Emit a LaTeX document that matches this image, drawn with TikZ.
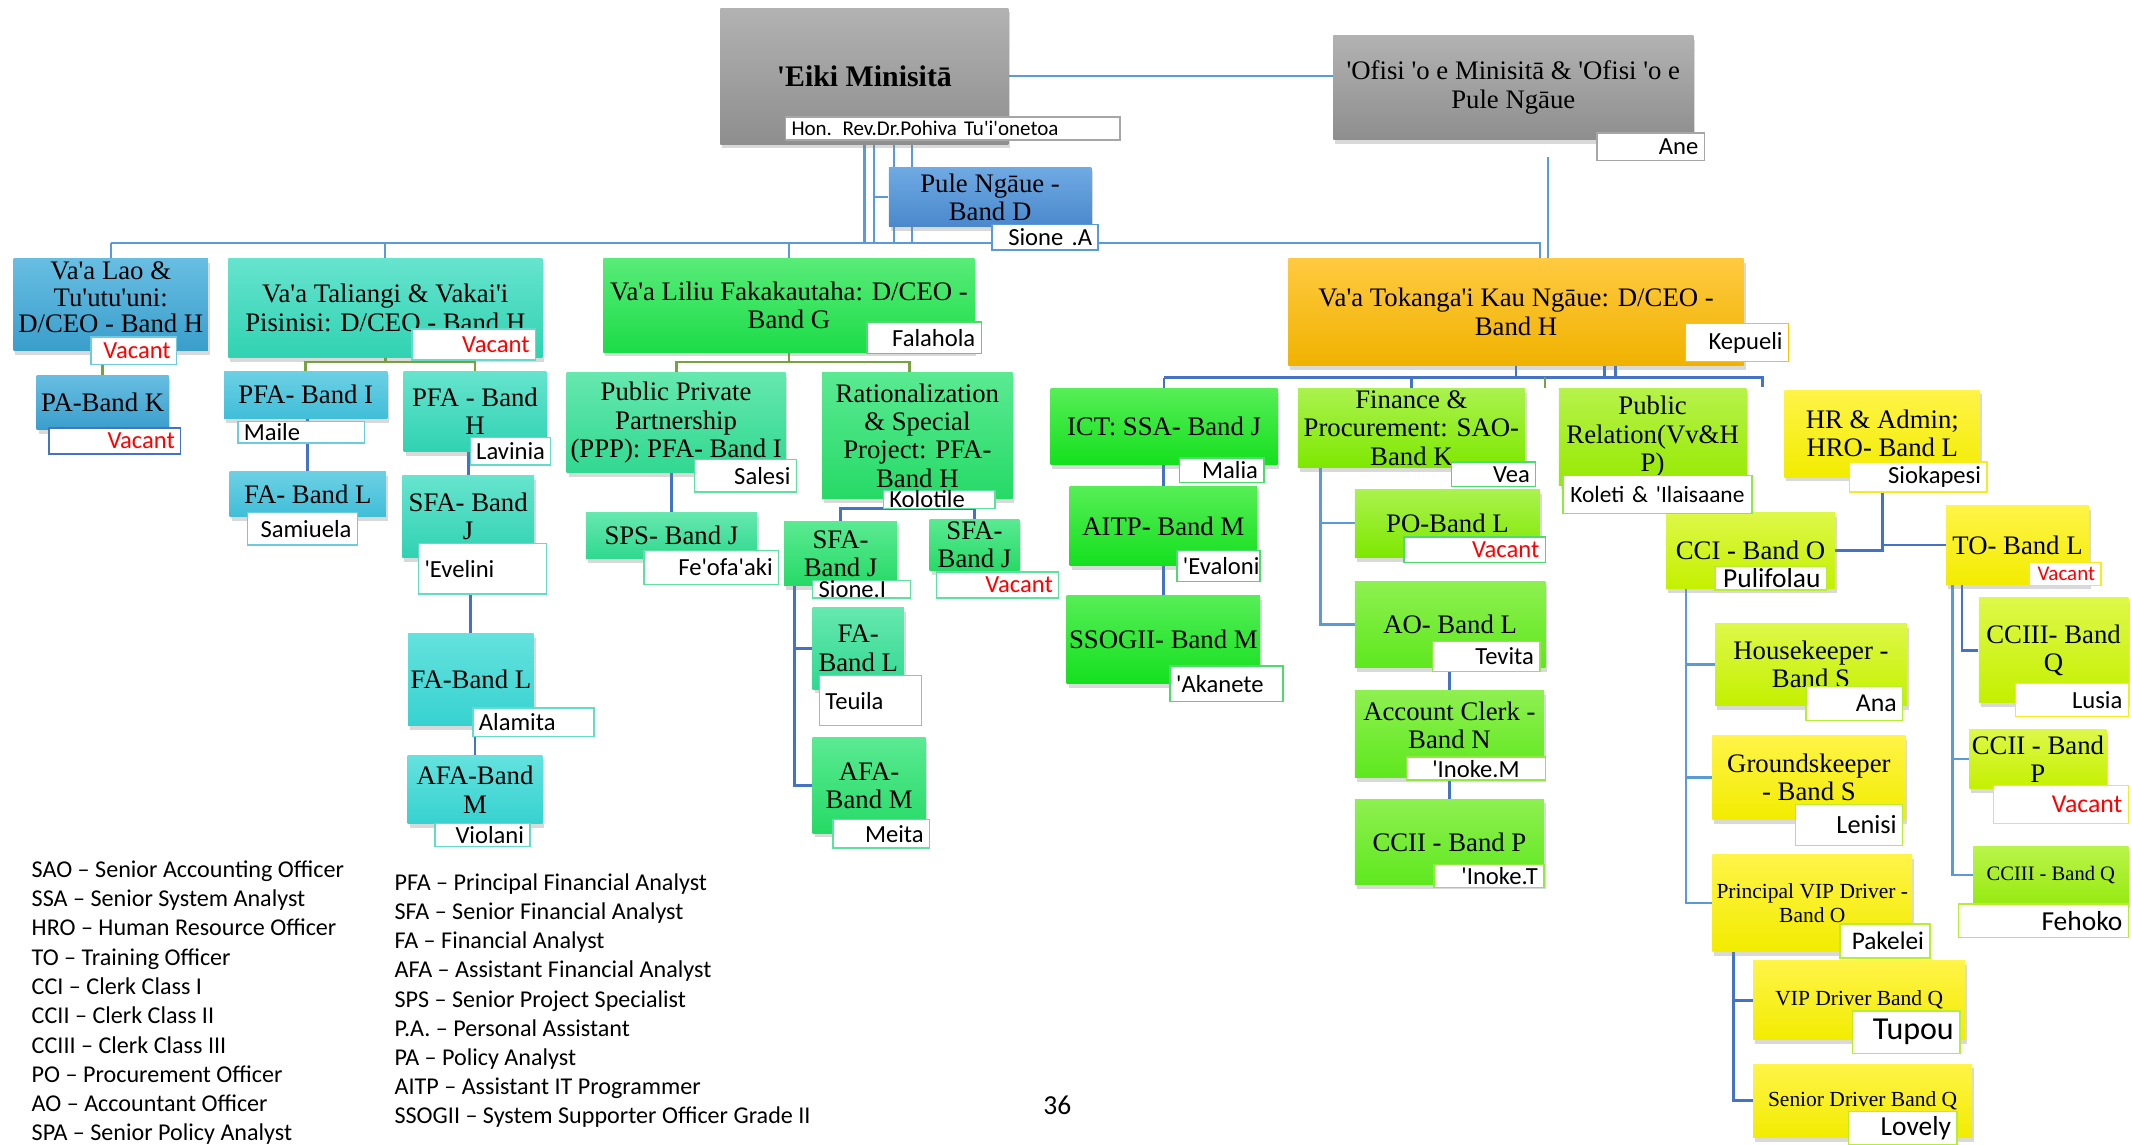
\documentclass[tikz,border=0pt]{standalone}
\usepackage{fontspec}
\newfontfamily\boxfont{Liberation Serif}
\newfontfamily\namefont{Carlito}
\usetikzlibrary{shadows,calc}
\pgfdeclarelayer{bg}
\pgfsetlayers{bg,main}
\definecolor{cGrayT}{HTML}{B2B2B2}\definecolor{cGrayB}{HTML}{8E8E8E}
\definecolor{cPuleT}{HTML}{6FAAE4}\definecolor{cPuleB}{HTML}{4A88CC}
\definecolor{cLaoT}{HTML}{68BEE2}\definecolor{cLaoB}{HTML}{3A9ECB}
\definecolor{cTealT}{HTML}{66E4CE}\definecolor{cTealB}{HTML}{30D2B2}
\definecolor{cCyanT}{HTML}{6CD0E4}\definecolor{cCyanB}{HTML}{40BED8}
\definecolor{cAquaT}{HTML}{64E2DE}\definecolor{cAquaB}{HTML}{36D2D0}
\definecolor{cGreenT}{HTML}{58EC78}\definecolor{cGreenB}{HTML}{1CDC48}
\definecolor{cMintT}{HTML}{66E8AE}\definecolor{cMintB}{HTML}{30D890}
\definecolor{cMGreenT}{HTML}{5AEA92}\definecolor{cMGreenB}{HTML}{26DA66}
\definecolor{cOrangeT}{HTML}{FFCA40}\definecolor{cOrangeB}{HTML}{F0B200}
\definecolor{cBrightT}{HTML}{56EE56}\definecolor{cBrightB}{HTML}{14E01E}
\definecolor{cLimeT}{HTML}{AAF24E}\definecolor{cLimeB}{HTML}{7EE800}
\definecolor{cLime2T}{HTML}{8EF050}\definecolor{cLime2B}{HTML}{5EE81E}
\definecolor{cPRT}{HTML}{B6F24A}\definecolor{cPRB}{HTML}{96EA00}
\definecolor{cYellowT}{HTML}{FFF448}\definecolor{cYellowB}{HTML}{F2EC00}
\definecolor{cYGT}{HTML}{DEF848}\definecolor{cYGB}{HTML}{C4F000}
\definecolor{cYG2T}{HTML}{BAF44A}\definecolor{cYG2B}{HTML}{96EA10}
\definecolor{lnBlue}{HTML}{5B9BD5}\definecolor{lnDBlue}{HTML}{4472C4}
\definecolor{lnGreen}{HTML}{77A33F}
\definecolor{bGray}{HTML}{A6A6A6}\definecolor{bCyan}{HTML}{6CCBE0}
\definecolor{bTeal}{HTML}{62DCC8}\definecolor{bMint}{HTML}{5EE0A0}
\definecolor{bGreen}{HTML}{4CDC6C}\definecolor{bLime}{HTML}{8EEA40}
\definecolor{bOrange}{HTML}{FFC000}\definecolor{bYellow}{HTML}{F4EC20}
\definecolor{bYG}{HTML}{B8EE30}
\newcommand\nf[1]{\namefont\fontsize{#1}{#1}\selectfont}
\tikzset{
 bxs/.style={inner sep=1pt, align=center, font=\boxfont\fontsize{11.2}{11.9}\selectfont,
   drop shadow={shadow xshift=0.8pt, shadow yshift=-1.8pt, opacity=0.3}},
 smallbox/.style={font=\boxfont\fontsize{9}{9.8}\selectfont},
 fGray/.style={top color=cGrayT, bottom color=cGrayB},
 fPule/.style={top color=cPuleT, bottom color=cPuleB},
 fLao/.style={top color=cLaoT, bottom color=cLaoB},
 fTeal/.style={top color=cTealT, bottom color=cTealB},
 fCyan/.style={top color=cCyanT, bottom color=cCyanB},
 fAqua/.style={top color=cAquaT, bottom color=cAquaB},
 fGreen/.style={top color=cGreenT, bottom color=cGreenB},
 fMint/.style={top color=cMintT, bottom color=cMintB},
 fMGreen/.style={top color=cMGreenT, bottom color=cMGreenB},
 fOrange/.style={top color=cOrangeT, bottom color=cOrangeB},
 fBright/.style={top color=cBrightT, bottom color=cBrightB},
 fLime/.style={top color=cLimeT, bottom color=cLimeB},
 fLimeB/.style={top color=cLime2T, bottom color=cLime2B},
 fPR/.style={top color=cPRT, bottom color=cPRB},
 fYellow/.style={top color=cYellowT, bottom color=cYellowB},
 fYG/.style={top color=cYGT, bottom color=cYGB},
 fYG2/.style={top color=cYG2T, bottom color=cYG2B},
 lbs/.style={draw, line width=0.6pt, fill=white, inner xsep=2.5pt, inner ysep=0pt,
   align=right, font=\nf{10.3}},
 lGray/.style={draw=bGray}, lBlue/.style={draw=lnBlue}, lDBlue/.style={draw=lnDBlue},
 lCyan/.style={draw=bCyan}, lTeal/.style={draw=bTeal}, lMint/.style={draw=bMint},
 lGreen/.style={draw=bGreen}, lLime/.style={draw=bLime}, lOrange/.style={draw=bOrange},
 lYellow/.style={draw=bYellow}, lYG/.style={draw=bYG},
 conn/.style={draw=lnBlue, line width=1pt},
 dconn/.style={draw=lnDBlue, line width=1.2pt},
 gconn/.style={draw=lnGreen, line width=1.2pt},
 leg/.style={font=\namefont\fontsize{10.1}{12}\selectfont, inner sep=0pt, anchor=base west}
}
\newcommand\obox[7]{%
 \pgfmathsetmacro\obw{(#4-#2)*0.02}%
 \pgfmathsetmacro\obh{(#5-#3)*0.02}%
 \node[bxs,#6,minimum width=\obw cm,minimum height=\obh cm] (#1) at ({(#2+#4)/2},{(#3+#5)/2}) {#7};}
\newcommand\olab[7]{%
 \pgfmathsetmacro\obw{(#4-#2)*0.02}%
 \pgfmathsetmacro\obh{(#5-#3)*0.02}%
 \pgfmathsetmacro\obt{(#4-#2)*0.02*28.4527-5}%
 \node[lbs,#6,minimum width=\obw cm,minimum height=\obh cm,text width=\obt pt] (#1) at ({(#2+#4)/2},{(#3+#5)/2}) {#7};}
\begin{document}
\begin{tikzpicture}[x=0.02cm,y=-0.02cm]
\useasboundingbox (0,0) rectangle (1568,842);
% ---------- boxes ----------
\obox{eiki}{530}{6}{742}{106}{fGray,font=\boxfont\bfseries\fontsize{12.5}{14}\selectfont}{'Eiki Minisitā}
\obox{ofisi}{981}{26}{1246}{103}{fGray}{'Ofisi 'o e Minisitā \& 'Ofisi 'o e\\Pule Ngāue}
\obox{pule}{654}{123}{803}{167}{fPule}{Pule Ngāue -\\Band D}
\obox{lao}{10}{190}{153}{258}{fLao,font=\boxfont\fontsize{11.2}{11.2}\selectfont,text depth=6pt}{Va'a Lao \&\\Tu'utu'uni:\\D/CEO - Band H}
\obox{tal}{168}{190}{399}{263}{fTeal}{Va'a Taliangi \& Vakai'i\\Pisinisi: D/CEO - Band H}
\obox{lil}{444}{190}{717}{259}{fGreen}{Va'a Liliu Fakakautaha: D/CEO -\\Band G}
\obox{tok}{948}{190}{1283}{269}{fOrange}{Va'a Tokanga'i Kau Ngāue: D/CEO -\\Band H}
\obox{pa}{27}{276}{124}{316}{fLao}{PA-Band K}
\obox{pfai}{165}{273}{285}{308}{fCyan}{PFA- Band I}
\obox{fal1}{169}{347}{284}{380}{fCyan}{FA- Band L}
\obox{pfah}{297}{273}{402}{332}{fTeal}{PFA - Band\\H}
\obox{sfaj1}{296}{350}{393}{410}{fTeal}{SFA- Band\\J}
\obox{fal2}{301}{466}{392}{534}{fAqua}{FA-Band L}
\obox{afa1}{300}{556}{399}{606}{fAqua}{AFA-Band\\M}
\obox{ppp}{417}{274}{578}{348}{fMint}{Public Private\\Partnership\\(PPP): PFA- Band I}
\obox{rat}{605}{274}{745}{367}{fMGreen}{Rationalization\\\& Special\\Project: PFA-\\Band H}
\obox{sps}{431}{377}{557}{411}{fMint}{SPS- Band J}
\obox{sfa2}{577}{384}{660}{431}{fMGreen}{SFA-\\Band J}
\obox{sfa3}{684}{384}{750}{418}{fMGreen}{SFA-\\Band J}
\obox{fal3}{598}{447}{665}{507}{fMint}{FA-\\Band L}
\obox{afa2}{598}{543}{681}{613}{fMGreen}{AFA-\\Band M}
\obox{ict}{773}{286}{940}{342}{fBright}{ICT: SSA- Band J}
\obox{aitp}{787}{358}{925}{416}{fBright}{AITP- Band M}
\obox{ssog}{787}{438}{925}{503}{fBright}{SSOGII- Band M}
\obox{fin}{955}{286}{1122}{344}{fLime}{Finance \&\\Procurement: SAO-\\Band K}
\obox{po}{997}{360}{1133}{410}{fLime}{PO-Band L}
\obox{ao}{997}{428}{1137}{491}{fLimeB}{AO- Band L}
\obox{acc}{997}{508}{1136}{572}{fLimeB,text depth=7.5pt}{Account Clerk -\\Band N}
\obox{ccii1}{997}{588}{1136}{651}{fLimeB}{CCII - Band P}
\obox{pr}{1147}{286}{1285}{357}{fPR}{Public\\Relation(Vv\&H\\P)}
\obox{hr}{1313}{287}{1457}{351}{fYellow}{HR \& Admin;\\HRO- Band L}
\obox{cci}{1226}{377}{1350}{433}{fYG}{CCI - Band O}
\obox{to}{1432}{372}{1537}{430}{fYellow}{TO- Band L}
\obox{hk}{1262}{459}{1403}{519}{fYG}{Housekeeper -\\Band S}
\obox{gk}{1260}{541}{1402}{603}{fYellow}{Groundskeeper\\- Band S}
\obox{pvip}{1260}{629}{1407}{700}{fYellow,smallbox}{Principal VIP Driver -\\Band O}
\obox{vip}{1290}{707}{1446}{765}{fYellow,smallbox}{VIP Driver Band Q}
\obox{sd}{1290}{783}{1451}{837}{fYellow,smallbox}{Senior Driver Band Q}
\obox{ccc1}{1456}{440}{1566}{517}{fYG}{CCIII- Band\\Q}
\obox{ccii2}{1450}{537}{1549}{580}{fYG}{CCII - Band\\P}
\obox{ccc2}{1452}{623}{1566}{665}{fYG2,font=\boxfont\fontsize{8.6}{9.6}\selectfont}{CCIII - Band Q}
% ---------- name labels ----------
\olab{eikiN}{578}{86}{824}{103}{lGray,align=left,font=\nf{8.8}}{Hon. Rev.Dr.Pohiva Tu'i'onetoa}
\olab{ofisiN}{1175}{98}{1254}{118}{lGray}{Ane}
\olab{puleN}{730}{165}{808}{184}{lBlue}{Sione .A}
\olab{laoN}{67}{248}{130}{268}{lCyan,text=red}{Vacant}
\olab{talN}{303}{242}{394}{265}{lTeal,text=red}{Vacant}
\olab{lilN}{638}{237}{722}{260}{lGreen}{Falahola}
\olab{tokN}{1240}{238}{1316}{266}{lOrange}{Kepueli}
\olab{paN}{36}{315}{133}{334}{lDBlue,text=red}{Vacant}
\olab{pfaiN}{175}{310}{268}{326}{lCyan,align=left}{Maile}
\olab{fal1N}{182}{377}{263}{401}{lCyan}{Samiuela}
\olab{pfahN}{346}{322}{405}{342}{lTeal,align=left}{Lavinia}
\olab{sfaj1N}{308}{400}{402}{437}{lTeal,align=left}{'Evelini}
\olab{fal2N}{348}{521}{437}{542}{lTeal,align=left}{Alamita}
\olab{afa1N}{320}{606}{390}{623}{lTeal}{Violani}
\olab{pppN}{511}{338}{586}{362}{lMint}{Salesi}
\olab{ratN}{650}{361}{732}{374}{lMint,align=left}{Kolotile}
\olab{spsN}{474}{405}{573}{430}{lMint}{Fe'ofa'aki}
\olab{sfa2N}{598}{427}{670}{440}{lMint,align=left}{Sione.I}
\olab{sfa3N}{689}{421}{779}{440}{lMint,text=red}{Vacant}
\olab{fal3N}{603}{497}{678}{534}{lMint,align=left}{Teuila}
\olab{afa2N}{613}{603}{684}{624}{lMint}{Meita}
\olab{ictN}{868}{337}{930}{355}{lGreen}{Malia}
\olab{aitpN}{866}{405}{927}{428}{lGreen}{'Evaloni}
\olab{ssogN}{861}{490}{944}{516}{lGreen,align=left}{'Akanete}
\olab{finN}{1068}{340}{1130}{358}{lGreen}{Vea}
\olab{poN}{1033}{395}{1137}{414}{lGreen,text=red}{Vacant}
\olab{aoN}{1054}{472}{1133}{494}{lLime}{Tevita}
\olab{accN}{1035}{557}{1137}{574}{lLime,align=center}{'Inoke.M}
\olab{ccii1N}{1055}{636}{1136}{653}{lLime}{'Inoke.T}
\olab{prN}{1150}{350}{1289}{378}{lLime,align=center,font=\nf{9.8}}{Koleti \& 'Ilaisaane}
\olab{hrN}{1361}{340}{1462}{362}{lYellow}{Siokapesi}
\olab{cciN}{1262}{417}{1344}{434}{lYG,font=\nf{11.5}}{Pulifolau}
\olab{toN}{1493}{414}{1546}{431}{lYellow,text=red,font=\nf{8.8}}{Vacant}
\olab{hkN}{1329}{505}{1400}{530}{lYG,font=\nf{10.8}}{Ana}
\olab{gkN}{1321}{592}{1400}{622}{lYG,font=\nf{11}}{Lenisi}
\olab{pvipN}{1354}{680}{1420}{705}{lYG,font=\nf{10.6}}{Pakelei}
\olab{vipN}{1363}{744}{1442}{775}{lYG,font=\nf{13.4}}{Tupou}
\olab{sdN}{1360}{818}{1440}{842}{lYG,font=\nf{11.5}}{Lovely}
\olab{ccc1N}{1483}{503}{1566}{527}{lYellow}{Lusia}
\olab{ccii2N}{1467}{578}{1566}{606}{lYellow,text=red,font=\nf{10.8}}{Vacant}
\olab{ccc2N}{1441}{665}{1566}{690}{lYG,font=\nf{11.5}}{Fehoko}
% ---------- connectors ----------
\begin{pgfonlayer}{bg}
\coordinate (tb) at (0,179);
\coordinate (tbR) at (1133,179);
\draw[conn] (eiki.east) -- (eiki.east -| ofisi.west);
\draw[conn] (lao.north |- tb) -- (tbR) -- (tbR |- tok.north);
\draw[conn] (lao.north |- tb) -- (lao.north);
\draw[conn] (tal.north |- tb) -- (tal.north);
\draw[conn] (lil.north |- tb) -- (lil.north);
\draw[conn] (eiki.south) -- (eiki.south |- tb);
\draw[conn] ($(eiki.south)+(7,0)$) |- (pule.west);
\draw[conn] ($(eiki.south)+(7,0)$) -- ($(eiki.south |- tb)+(7,0)$);
\draw[conn] ($(eiki.south)+(22,0)$) -- ($(eiki.south |- tb)+(22,0)$);
\draw[conn] ($(eiki.south)+(35,0)$) -- ($(eiki.south |- tb)+(35,0)$);
\draw[conn,line width=0.6pt] ($(ofisi.south)+(25.5,12)$) -- ($(tok.north)+(23.5,16)$);
% Lao
\draw[gconn] (pa.north |- lao.south) -- (pa.north);
% Taliangi
\coordinate (tj) at ($(tal.south)+(0,3)$);
\draw[gconn] (tal.south) -- (tj);
\draw[gconn] (pfai.north) |- (tj) -| (pfah.north);
\draw[dconn] (fal1.north |- pfai.south) -- (fal1.north);
\draw[dconn] (sfaj1.north |- pfah.south) -- (sfaj1.north);
\draw[dconn] (fal2.north |- sfaj1.south) -- (fal2.north);
\draw[dconn] (afa1.north |- fal2.south) -- (afa1.north);
% Liliu
\coordinate (lj) at ($(lil.south)+(0,7)$);
\draw[gconn] (lil.south) -- (lj);
\draw[gconn] (ppp.north) |- (lj) -| ($(rat.north)+(-6,0)$);
\draw[dconn] (sps.north |- ppp.south) -- (sps.north);
\coordinate (rj) at ($(rat.south)+(-6,7)$);
\draw[dconn] ($(rat.south)+(-6,0)$) -- (rj);
\draw[dconn] (sfa2.north) |- (rj) -| (sfa3.north);
\draw[dconn] ($(sfa2.south west)+(8,0)$) |- (fal3.west);
\draw[dconn] ($(sfa2.south west)+(8,0)$) |- (afa2.west);
% Tokanga
\coordinate (kbR) at (1297,278);
\draw[dconn] (ict.north |- kbR) -- (kbR) -- ++(0,7);
\draw[dconn] (ict.north |- kbR) -- (ict.north);
\draw[dconn] (fin.north |- kbR) -- (fin.north);
\draw[gconn,line width=0.8pt] ($(pr.north west)+(-10,-8)$) -- ($(pr.north west)+(-10,0)$);
\draw[dconn] (tok.south) -- (tok.south |- kbR);
\draw[dconn] ($(tok.south)+(65,0)$) -- ($(tok.south |- kbR)+(65,0)$);
\draw[dconn] ($(tok.south)+(73,0)$) -- ($(tok.south |- kbR)+(73,0)$);
\draw[dconn] (aitp.north |- ict.south) -- (aitp.north);
\draw[dconn] (aitp.south) -- (ssog.north);
\draw[conn] ($(fin.south west)+(17,0)$) |- (po.west);
\draw[conn] ($(fin.south west)+(17,0)$) |- (ao.west);
\draw[dconn] (acc.north |- ao.south) -- (acc.north);
\draw[dconn] (acc.south) -- (ccii1.north);
\draw[dconn] (hr.south) |- (cci.east);
\draw[dconn] (hr.south) |- (to.west);
\draw[conn] ($(cci.south west)+(15,0)$) |- (hk.west);
\draw[conn] ($(cci.south west)+(15,0)$) |- (gk.west);
\draw[conn] ($(cci.south west)+(15,0)$) |- (pvip.west);
\draw[dconn] ($(pvip.south west)+(16,0)$) |- (vip.west);
\draw[dconn] ($(pvip.south west)+(16,0)$) |- (sd.west);
\draw[conn] ($(to.south west)+(5,0)$) |- (ccii2.west);
\draw[conn] ($(to.south west)+(5,0)$) |- (ccc2.west);
\draw[dconn] ($(to.south west)+(12,0)$) |- (ccc1.west);
\end{pgfonlayer}
% ---------- legend ----------
\foreach \t [count=\i from 0] in {{SAO – Senior Accounting Officer},{SSA – Senior System Analyst},{HRO – Human Resource Officer},{TO – Training Officer},{CCI – Clerk Class I},{CCII – Clerk Class II},{CCIII – Clerk Class III},{PO – Procurement Officer},{AO – Accountant Officer},{SPA – Senior Policy Analyst}}
  \node[leg] (legL\i) at (23,{645.5+21.55*\i}) {\t};
\foreach \t [count=\i from 0] in {{PFA – Principal Financial Analyst},{SFA – Senior Financial Analyst},{FA – Financial Analyst},{AFA – Assistant Financial Analyst},{SPS – Senior Project Specialist},{P.A. – Personal Assistant},{PA – Policy Analyst},{AITP – Assistant IT Programmer},{SSOGII – System Supporter Officer Grade II}}
  \node[leg] (legR\i) at (290,{655+21.5*\i}) {\t};
\node[font=\namefont\fontsize{11.5}{13}\selectfont, inner sep=0pt] (pagenum) at (778,813) {36};
\end{tikzpicture}
\end{document}
